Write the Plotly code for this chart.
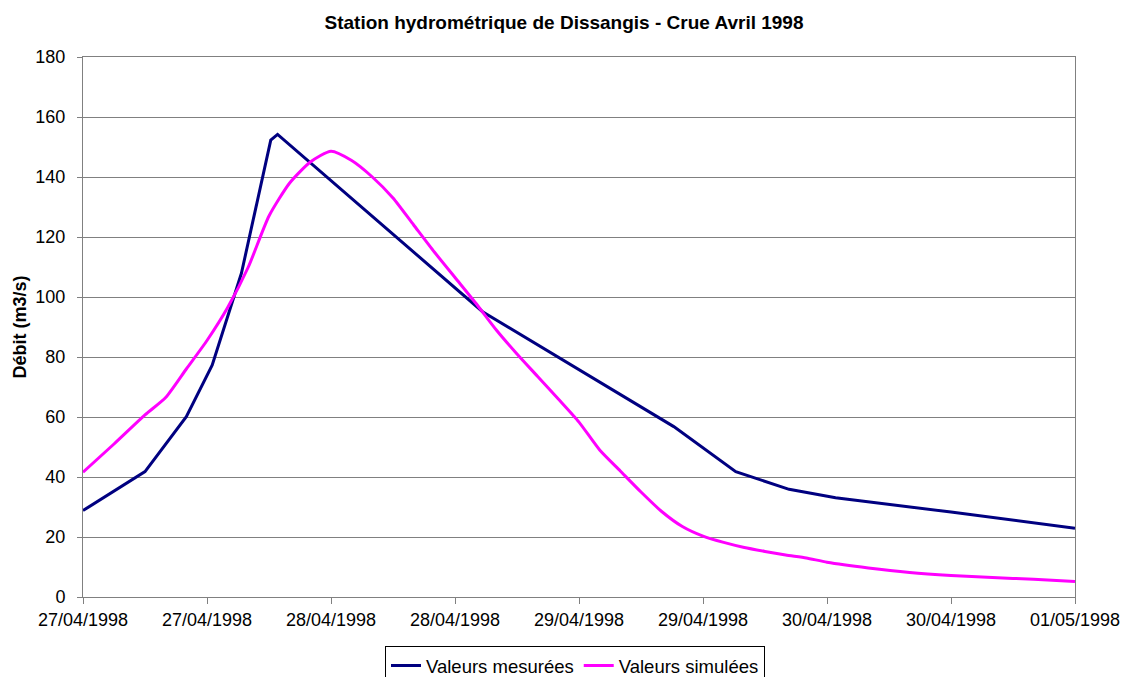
import plotly.graph_objects as go
import pandas as pd

start = pd.Timestamp("1998-04-27 00:00")

# Valeurs mesurées (hours since 27/04/1998 00:00, m3/s)
mes_hours = [0, 6, 10, 12.5, 15.33, 18.17, 18.83, 38.67, 57.17, 63.17, 68.33, 72.83, 84, 96]
mes_values = [28.8, 41.8, 60.1, 77.3, 107.9, 152.3, 154.2, 95.1, 56.8, 41.8, 35.9, 33.1, 28.3, 22.9]

# Valeurs simulées
sim_hours = [0, 3, 6, 8, 10, 12, 14, 16, 18, 20, 22, 24, 26, 28, 30, 32, 34, 36, 38, 40,
             42, 44, 46, 48, 50, 52, 54, 56, 58, 60, 62, 64, 66, 68, 70, 72, 76, 80, 84, 88, 92, 96]
sim_values = [41.6, 51.0, 60.7, 66.5, 76.0, 85.5, 96.5, 110.0, 127.0, 138.0, 145.0, 148.6, 145.5,
              140.0, 133.0, 124.0, 115.0, 106.5, 98.0, 89.0, 81.0, 73.5, 66.0, 58.3, 49.0, 42.0,
              35.0, 28.5, 23.5, 20.3, 18.2, 16.5, 15.2, 14.0, 13.0, 11.6, 9.7, 8.2, 7.2, 6.5, 5.9, 5.2]

tick_hours = [0, 12, 24, 36, 48, 60, 72, 84, 96]
tick_labels = ["27/04/1998", "27/04/1998", "28/04/1998", "28/04/1998", "29/04/1998",
               "29/04/1998", "30/04/1998", "30/04/1998", "01/05/1998"]

def to_dt(hours):
    return [start + pd.Timedelta(hours=h) for h in hours]

fig = go.Figure()
fig.add_trace(go.Scatter(x=to_dt(mes_hours), y=mes_values, mode="lines",
                         name="Valeurs mesurées", line=dict(color="#000080", width=3)))
fig.add_trace(go.Scatter(x=to_dt(sim_hours), y=sim_values, mode="lines",
                         name="Valeurs simulées",
                         line=dict(color="#FF00FF", width=3, shape="spline", smoothing=0.6)))

W, H = 1124, 677
font_family = "Liberation Sans, Arial, sans-serif"
fig.update_layout(
    width=W, height=H,
    paper_bgcolor="white", plot_bgcolor="white",
    margin=dict(l=83, r=49, t=57, b=80, autoexpand=False),
    font=dict(family=font_family, size=18, color="black"),
    title=dict(text="<b>Station hydrométrique de Dissangis - Crue Avril 1998</b>",
               x=564 / W, xref="container", xanchor="center", y=1 - 22 / H, yanchor="middle",
               font=dict(size=19, family=font_family, color="black")),
    showlegend=True,
    legend=dict(orientation="h", xref="container", yref="container",
                x=575 / W, xanchor="center", y=1 - 646 / H, yanchor="top",
                bordercolor="black", borderwidth=1, bgcolor="white",
                font=dict(size=18.5), itemwidth=30, tracegroupgap=0),
)
fig.update_xaxes(
    range=[start, start + pd.Timedelta(hours=96)],
    tickvals=to_dt(tick_hours), ticktext=tick_labels,
    ticks="outside", ticklen=6, tickcolor="#808080",
    showline=True, linecolor="#808080", linewidth=1, mirror=True,
    showgrid=False, zeroline=False, tickfont=dict(size=18), automargin=False,
)
fig.update_yaxes(
    range=[0, 180], dtick=20, tick0=0,
    ticks="outside", ticklen=5, tickcolor="#808080",
    showline=True, linecolor="#808080", linewidth=1, mirror=True,
    showgrid=True, gridcolor="#808080", gridwidth=1, zeroline=False,
    title=dict(text="<b>Débit (m3/s)</b>", font=dict(size=18), standoff=4),
    tickfont=dict(size=18), ticklabelstandoff=8, automargin=False,
)

# remove the default page margin so the figure fills the window exactly
fig.write_html("out.html",
               config={"displayModeBar": False},
               post_script="document.body.style.margin='0';document.body.style.overflow='hidden';")
